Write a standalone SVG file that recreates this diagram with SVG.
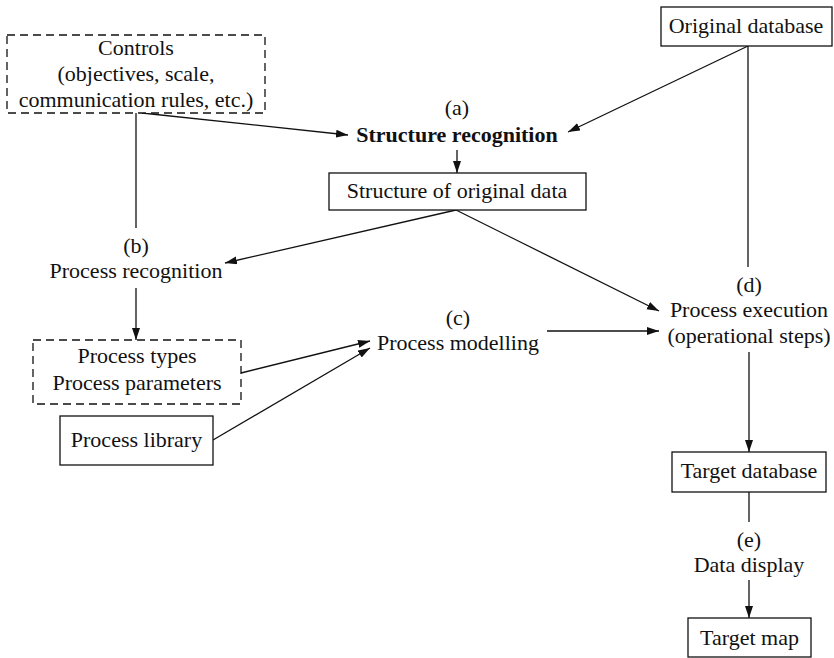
<svg xmlns="http://www.w3.org/2000/svg" width="834" height="658" viewBox="0 0 834 658">
  <style>
    text { font-size: 22px; fill: #111; text-anchor: middle; }
    .bold { font-weight: bold; }
    .box { fill: #fff; stroke: #111; stroke-width: 1.3; }
    .dashed { fill: #fff; stroke: #111; stroke-width: 1.3; stroke-dasharray: 8 5; }
    .edge { fill: none; stroke: #111; stroke-width: 1.3; }
    .arrow { marker-end: url(#head); }
  </style>
  <defs>
    <marker id="head" markerUnits="userSpaceOnUse" markerWidth="13" markerHeight="9" refX="12" refY="4" orient="auto">
      <path d="M0,0 L12,4 L0,8 z" fill="#111"/>
    </marker>
  </defs>

  <!-- connectors -->
  <g id="connectors">
    <line class="edge arrow" x1="142" y1="113" x2="348" y2="135"/>
    <line class="edge arrow" x1="748" y1="46" x2="568" y2="132"/>
    <line class="edge arrow" x1="457" y1="150" x2="457" y2="173"/>
    <line class="edge" x1="136" y1="113" x2="136" y2="228"/>
    <line class="edge arrow" x1="456" y1="210" x2="225" y2="263"/>
    <line class="edge arrow" x1="456" y1="210" x2="659" y2="311"/>
    <line class="edge" x1="748" y1="46" x2="748" y2="267"/>
    <line class="edge arrow" x1="136" y1="288" x2="136" y2="340"/>
    <line class="edge arrow" x1="241" y1="373" x2="370" y2="341"/>
    <line class="edge arrow" x1="213" y1="440" x2="370" y2="348"/>
    <line class="edge arrow" x1="547" y1="331" x2="659" y2="331"/>
    <line class="edge arrow" x1="749" y1="352" x2="749" y2="452"/>
    <line class="edge" x1="749" y1="492" x2="749" y2="522"/>
    <line class="edge arrow" x1="749" y1="580" x2="749" y2="618"/>
  </g>

  <!-- nodes -->
  <g font-family="'Liberation Serif', Tinos, 'Times New Roman', Times, 'DejaVu Serif', 'Noto Serif', FreeSerif, serif">
  <g id="controls">
    <rect class="dashed" x="7" y="35" width="258" height="78"/>
    <text x="136" y="55">Controls</text>
    <text x="136" y="81">(objectives, scale,</text>
    <text x="136" y="107">communication rules, etc.)</text>
  </g>

  <g id="original-database">
    <rect class="box" x="661" y="7" width="171" height="39"/>
    <text x="746" y="33">Original database</text>
  </g>

  <g id="structure-recognition">
    <text x="457" y="115">(a)</text>
    <text class="bold" x="457" y="142">Structure recognition</text>
  </g>

  <g id="structure-of-original-data">
    <rect class="box" x="329" y="173" width="257" height="37"/>
    <text x="457" y="198">Structure of original data</text>
  </g>

  <g id="process-recognition">
    <text x="136" y="253">(b)</text>
    <text x="136" y="278">Process recognition</text>
  </g>

  <g id="process-types">
    <rect class="dashed" x="33" y="340" width="208" height="64"/>
    <text x="137" y="363">Process types</text>
    <text x="137" y="390">Process parameters</text>
  </g>

  <g id="process-library">
    <rect class="box" x="60" y="416" width="153" height="49"/>
    <text x="136.5" y="447">Process library</text>
  </g>

  <g id="process-modelling">
    <text x="458" y="325">(c)</text>
    <text x="458" y="350">Process modelling</text>
  </g>

  <g id="process-execution">
    <text x="749" y="292">(d)</text>
    <text x="749" y="317">Process execution</text>
    <text x="749" y="343">(operational steps)</text>
  </g>

  <g id="target-database">
    <rect class="box" x="672" y="452" width="154" height="40"/>
    <text x="749" y="478">Target database</text>
  </g>

  <g id="data-display">
    <text x="749" y="547">(e)</text>
    <text x="749" y="572">Data display</text>
  </g>

  <g id="target-map">
    <rect class="box" x="688" y="618" width="123" height="39"/>
    <text x="749.5" y="645">Target map</text>
  </g>
  </g>
</svg>
